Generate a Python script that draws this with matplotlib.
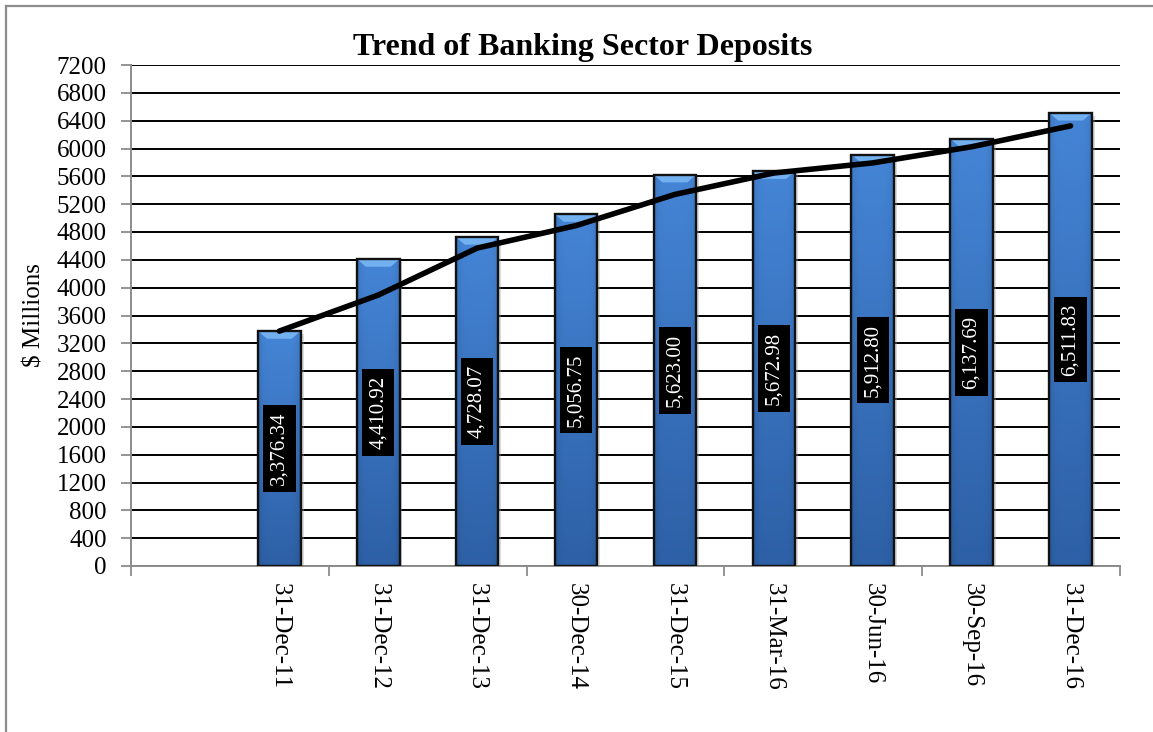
import numpy as np
import matplotlib
matplotlib.use("Agg")
import matplotlib.pyplot as plt
from matplotlib.patches import Rectangle, Polygon
from matplotlib.lines import Line2D

plt.rcParams['font.family'] = ['Liberation Serif', 'DejaVu Serif']

# ---- data ----
categories = ['', '31-Dec-11', '31-Dec-12', '31-Dec-13', '30-Dec-14', '31-Dec-15',
              '31-Mar-16', '30-Jun-16', '30-Sep-16', '31-Dec-16']
deposits = [3376.34, 4410.92, 4728.07, 5056.75, 5623.00,
            5672.98, 5912.80, 6137.69, 6511.83]
trend = [3376, 3894, 4569, 4892, 5340, 5648, 5793, 6025, 6325]
y_ticks = list(range(0, 7201, 400))

W, H, DPI = 1153, 732, 100
fig = plt.figure(figsize=(W / DPI, H / DPI), dpi=DPI)
fig.patch.set_facecolor('white')

# outer chart border (left and top edges)
fig.add_artist(Line2D([6 / W, 6 / W], [0, 1 - 6 / H], transform=fig.transFigure,
                      color='#8c8c8c', lw=1.6))
fig.add_artist(Line2D([6 / W, 1.0], [1 - 6 / H, 1 - 6 / H], transform=fig.transFigure,
                      color='#8c8c8c', lw=1.6))

ax = fig.add_axes([131 / W, 1 - 566 / H, (1120 - 131) / W, (566 - 65) / H])
ax.set_facecolor('white')

xpos = np.arange(len(categories))
bar_x = xpos[1:]
bw = 0.43

# vertical/horizontal shading for bar fill
top_c = np.array([0x45, 0x85, 0xd6]) / 255
bot_c = np.array([0x2d, 0x60, 0xa6]) / 255
ny, nx = 200, 40
tv = np.linspace(0, 1, ny)[:, None]
hv = np.linspace(-1, 1, nx)[None, :]
side = 1 - 0.12 * hv ** 6
grad = (top_c[None, None, :] * (1 - tv[..., None]) + bot_c[None, None, :] * tv[..., None])
grad = np.clip(grad * side[..., None], 0, 1)

for x, v in zip(bar_x, deposits):
    # soft shadow
    ax.add_patch(Rectangle((x - bw / 2 + 0.03, 0), bw, v - 40, facecolor='#9a9a9a',
                           alpha=0.35, edgecolor='none', zorder=2))
    ax.imshow(grad, extent=[x - bw / 2, x + bw / 2, 0, v], aspect='auto',
              origin='upper', zorder=3, interpolation='bilinear')
    # top bevel
    bev_h = 110
    ax.add_patch(Polygon([(x - bw / 2, v), (x + bw / 2, v),
                          (x + bw / 2 - 0.09, v - bev_h), (x - bw / 2 + 0.09, v - bev_h)],
                         closed=True, facecolor='#72b0f0', edgecolor='none', zorder=3.5))
    ax.add_patch(Rectangle((x - bw / 2, 0), bw, v, facecolor='none',
                           edgecolor='#111111', lw=1.7, zorder=4))
    ax.text(x, v / 2, f'{v:,.2f}', rotation=90, ha='center', va='center',
            fontsize=15, color='white', zorder=7,
            bbox=dict(boxstyle='square,pad=0.32', facecolor='black', edgecolor='none'))

ax.plot(bar_x, trend, color='black', lw=4, solid_capstyle='round',
        solid_joinstyle='round', zorder=6)

ax.set_xlim(-0.5, len(categories) - 0.5)
ax.set_ylim(0, 7200)

ax.set_yticks(y_ticks)
ax.set_yticklabels([str(t) for t in y_ticks], fontsize=18)
ax.yaxis.grid(True, color='black', lw=1.4)
ax.set_axisbelow(True)

ax.set_xticks(xpos)
ax.set_xticklabels(categories, rotation=-90, fontsize=18, va='top', ha='center')
ax.set_xticks(np.arange(-0.5, len(categories), 2), minor=True)
ax.tick_params(axis='x', which='major', length=0, pad=12)
ax.tick_params(axis='x', which='minor', length=7, width=1.3, color='#8c8c8c', direction='out')
ax.tick_params(axis='y', length=7, width=1.3, color='#8c8c8c', direction='out', pad=10.5)

for s in ['top', 'right']:
    ax.spines[s].set_visible(False)
for s in ['left', 'bottom']:
    ax.spines[s].set_color('#8c8c8c')
    ax.spines[s].set_linewidth(1.4)

fig.text(35 / W, 1 - 315 / H, '$ Millions', rotation=90, ha='center', va='center',
         fontsize=18)
fig.text(583 / W, 1 - 55 / H, 'Trend of Banking Sector Deposits', ha='center',
         va='baseline', fontsize=23, fontweight='bold')

fig.savefig('out.png', dpi=DPI, facecolor='white')
